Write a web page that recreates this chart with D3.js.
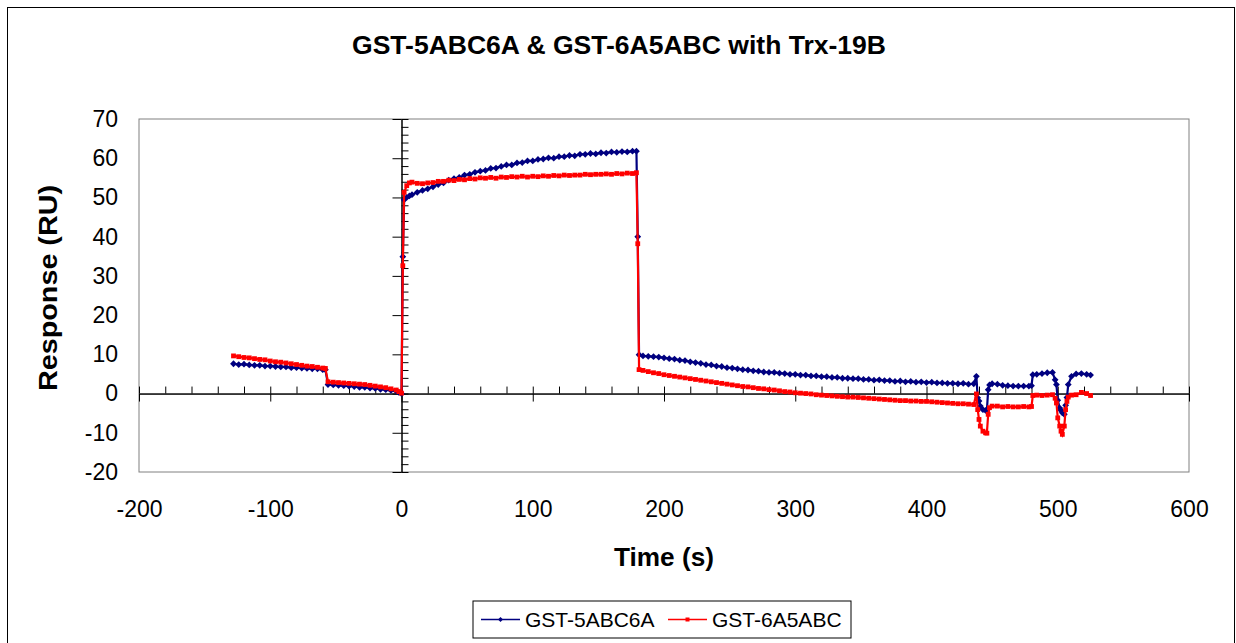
<!DOCTYPE html>
<html>
<head>
<meta charset="utf-8">
<script src="https://cdn.jsdelivr.net/npm/d3@7"></script>
<style>
  body { margin: 0; background: #fff; }
  text { font-family: Arial, "Liberation Sans", sans-serif; }
</style>
</head>
<body>
<svg id="drawing_region"></svg>
<script>
// time (s), one row per segment of the sensorgram
const times = [
    -128, -124, -120, -116, -112, -108, -104, -100, -96, -92, -88, -84, -80, -76, -72, -68, -64, -60, -58,
    -56, -52, -48, -44, -40, -36, -32, -28, -24, -20, -16, -12, -8, -4, -2, 0,
    1, 2, 4, 6, 8, 12, 16, 20,
    24, 28, 32, 36, 40, 44, 48, 52, 56, 60, 64, 68, 72, 76, 80, 84, 88, 92, 96, 100,
    104, 108, 112, 116, 120, 124, 128, 132, 136, 140, 144, 148, 152, 156, 160, 164, 168, 172, 176, 179,
    180, 181,
    184, 188, 192, 196, 200, 204, 208, 212, 216, 220, 224, 228, 232, 236, 240, 244, 248, 252, 256, 260,
    264, 268, 272, 276, 280, 284, 288, 292, 296, 300, 304, 308, 312, 316, 320, 324, 328, 332, 336, 340,
    344, 348, 352, 356, 360, 364, 368, 372, 376, 380, 384, 388, 392, 396, 400, 404, 408, 412, 416, 420,
    424, 428, 432, 436,
    438, 439, 440, 441, 443, 445, 446, 447, 448, 450, 454, 458, 462, 466, 470, 474, 478, 480,
    481, 484, 488, 492, 496, 498, 499, 500, 501.5, 502.5, 503.5, 505, 506, 507, 508, 510.5, 514, 518, 522, 525
];

// GST-5ABC6A (navy)
const values5ABC6A = [
    7.6, 7.4, 7.5, 7.3, 7.2, 7.2, 7.0, 7.0, 6.9, 6.8, 6.8, 6.6, 6.6, 6.5, 6.4, 6.3, 6.3, 6.1, 6.1,
    2.3, 2.2, 2.1, 2.0, 1.9, 1.8, 1.6, 1.6, 1.4, 1.3, 1.1, 1.0, 0.8, 0.6, 0.3, 0.0,
    34.9, 49.4, 50.0, 50.4, 50.7, 51.3, 51.8, 52.2,
    52.7, 53.3, 53.7, 54.4, 54.8, 55.1, 55.7, 55.9, 56.4, 56.7, 56.9, 57.4, 57.5, 57.9, 58.3, 58.3, 58.8, 58.9, 59.3, 59.3,
    59.7, 59.8, 60.1, 60.0, 60.4, 60.4, 60.7, 60.6, 61.0, 61.0, 61.2, 61.1, 61.4, 61.3, 61.6, 61.5, 61.7, 61.6, 61.8, 61.8,
    40.0, 9.9,
    9.6, 9.5, 9.4, 9.3, 9.1, 8.9, 8.8, 8.5, 8.4, 8.1, 7.9, 7.7, 7.4, 7.3, 7.0, 6.9, 6.6, 6.5, 6.3, 6.1,
    6.0, 5.8, 5.7, 5.5, 5.4, 5.4, 5.2, 5.1, 4.9, 4.9, 4.7, 4.7, 4.5, 4.5, 4.3, 4.3, 4.1, 4.1, 3.9, 3.9,
    3.8, 3.8, 3.6, 3.6, 3.4, 3.5, 3.3, 3.3, 3.1, 3.2, 3.0, 3.1, 2.9, 3.0, 2.8, 2.9, 2.7, 2.7, 2.6, 2.6,
    2.5, 2.6, 2.4, 2.5,
    4.4, -1.1, -1.9, -3.2, -4.1, -4.3, -4.4, 1.0, 2.2, 2.5, 2.4, 2.1, 2.0, 1.9, 1.9, 1.9, 1.9, 2.0,
    4.8, 4.9, 5.1, 5.3, 5.4, 3.5, 2.3, -1.7, -3.7, -4.3, -4.9, -5.3, -3.0, -1.0, 2.3, 4.4, 5.0, 5.1, 4.9, 4.7
];

// GST-6A5ABC (red)
const values6A5ABC = [
    9.6, 9.4, 9.2, 9.1, 8.9, 8.7, 8.6, 8.3, 8.1, 8.0, 7.8, 7.6, 7.4, 7.2, 7.0, 6.9, 6.7, 6.5, 6.4,
    3.0, 2.9, 2.8, 2.7, 2.6, 2.5, 2.4, 2.3, 2.1, 1.9, 1.7, 1.5, 1.2, 0.9, 0.5, 0.1,
    32.6, 51.3, 53.0, 53.7, 53.9, 53.6, 53.5, 53.7,
    53.8, 54.1, 54.1, 54.4, 54.3, 54.6, 54.5, 54.8, 54.7, 55.0, 54.9, 55.1, 54.9, 55.2, 55.1, 55.3, 55.2, 55.4, 55.2, 55.4,
    55.3, 55.5, 55.4, 55.6, 55.5, 55.7, 55.6, 55.7, 55.7, 55.9, 55.8, 55.9, 55.9, 56.0, 55.9, 56.1, 56.0, 56.2, 56.1, 56.3,
    38.2, 6.1,
    5.9, 5.6, 5.3, 5.1, 4.8, 4.6, 4.4, 4.2, 4.0, 3.8, 3.6, 3.4, 3.2, 3.0, 2.8, 2.6, 2.4, 2.2, 2.0, 1.8,
    1.7, 1.5, 1.3, 1.2, 1.0, 0.9, 0.7, 0.5, 0.4, 0.2, 0.1, 0.0, -0.1, -0.3, -0.4, -0.5, -0.6, -0.7, -0.8, -0.9,
    -0.9, -1.0, -1.1, -1.2, -1.3, -1.4, -1.5, -1.6, -1.7, -1.8, -1.8, -1.9, -1.9, -2.0, -2.0, -2.1, -2.2, -2.3, -2.4, -2.5,
    -2.6, -2.6, -2.7, -2.8,
    -0.1, -4.1, -6.6, -8.3, -9.6, -10.0, -10.1, -5.3, -3.6, -3.2, -3.2, -3.4, -3.3, -3.4, -3.4, -3.3, -3.4, -3.3,
    -0.5, -0.4, -0.5, -0.4, -0.3, -1.2, -2.4, -6.2, -8.3, -9.6, -10.4, -8.3, -4.1, -2.0, -0.9, -0.4, -0.3, 0.3, 0.0, -0.5
];

const seriesNames = ['GST-5ABC6A', 'GST-6A5ABC'];
const seriesColors = ['#000080', '#ff0000'];
const xTicks = [-200, -100, 0, 100, 200, 300, 400, 500, 600];
const yTicks = [-20, -10, 0, 10, 20, 30, 40, 50, 60, 70];

const data = seriesNames.map( (name, i) => ({
    name: name,
    color: seriesColors[i],
    marker: i == 0 ? 'diamond' : 'square',
    points: times.map( (t, j) => ({ t: t, v: (i == 0 ? values5ABC6A : values6A5ABC)[j] }) )
}));

var config = {
    parent: '#drawing_region',
    width: 1236,
    height: 643,
    margin: {top:119, right:47, bottom:171, left:139}
};

class SensorChart {

    constructor( config, data ) {
        this.config = config;
        this.data = data;
        this.init();
    }

    init() {
        let self = this;

        self.svg = d3.select( self.config.parent )
            .attr('width', self.config.width)
            .attr('height', self.config.height);

        self.inner_width = self.config.width - self.config.margin.left - self.config.margin.right;
        self.inner_height = self.config.height - self.config.margin.top - self.config.margin.bottom;

        // outer frame
        self.svg.append('rect')
            .attr('x', 7.5).attr('y', 7.5)
            .attr('width', self.config.width - 9).attr('height', 660)
            .attr('fill', 'none')
            .attr('stroke', '#000');

        self.chart = self.svg.append('g')
            .attr('transform', `translate(${self.config.margin.left}, ${self.config.margin.top})`);

        self.xscale = d3.scaleLinear()
            .domain([-200, 600])
            .range([0, self.inner_width]);

        self.yscale = d3.scaleLinear()
            .domain([-20, 70])
            .range([self.inner_height, 0]);

        self.svg.append('text')
            .attr('x', 619).attr('y', 54)
            .attr('text-anchor', 'middle')
            .attr('font-size', '26px')
            .attr('font-weight', 'bold')
            .attr('textLength', 534)
            .attr('lengthAdjust', 'spacingAndGlyphs')
            .text('GST-5ABC6A & GST-6A5ABC with Trx-19B');

        self.svg.append('text')
            .attr('x', 664).attr('y', 566)
            .attr('text-anchor', 'middle')
            .attr('font-size', '25px')
            .attr('font-weight', 'bold')
            .attr('textLength', 100)
            .attr('lengthAdjust', 'spacingAndGlyphs')
            .text('Time (s)');

        self.svg.append('text')
            .attr('transform', 'translate(57, 288) rotate(-90)')
            .attr('text-anchor', 'middle')
            .attr('font-size', '25px')
            .attr('font-weight', 'bold')
            .attr('textLength', 206)
            .attr('lengthAdjust', 'spacingAndGlyphs')
            .text('Response (RU)');
    }

    render() {
        let self = this;
        const x0 = self.xscale(0);
        const y0 = self.yscale(0);

        // plot box
        self.chart.append('rect')
            .attr('width', self.inner_width)
            .attr('height', self.inner_height)
            .attr('fill', 'none')
            .attr('stroke', '#808080');

        // tick labels along the bottom and the left of the box
        const xlabels = self.chart.append('g')
            .attr('transform', `translate(0, ${self.inner_height})`)
            .call( d3.axisBottom(self.xscale).tickValues(xTicks).tickSize(0).tickPadding(29).tickFormat(d => String(d)) );
        const ylabels = self.chart.append('g')
            .call( d3.axisLeft(self.yscale).tickValues(yTicks).tickSize(0).tickPadding(21).tickFormat(d => String(d)) );
        [xlabels, ylabels].forEach( g => {
            g.select('.domain').remove();
            g.selectAll('text')
                .attr('font-family', 'Arial, "Liberation Sans", sans-serif')
                .attr('font-size', '23px')
                .attr('fill', '#000');
        });

        // x axis through y = 0
        const xMinor = d3.range(-200, 601, 20);
        self.chart.append('g')
            .attr('transform', `translate(0, ${y0})`)
            .call( d3.axisTop(self.xscale).tickValues(xMinor).tickSize(7).tickFormat('').tickSizeOuter(0) );
        self.chart.append('g')
            .attr('transform', `translate(0, ${y0})`)
            .call( d3.axisBottom(self.xscale).tickValues(xTicks).tickSize(8).tickFormat('').tickSizeOuter(0) );

        // y axis through x = 0
        const yMinor = d3.range(-20, 71, 2);
        self.chart.append('g')
            .attr('transform', `translate(${x0}, 0)`)
            .call( d3.axisRight(self.yscale).tickValues(yMinor).tickSize(7).tickFormat('').tickSizeOuter(0) );
        self.chart.append('g')
            .attr('transform', `translate(${x0}, 0)`)
            .call( d3.axisLeft(self.yscale).tickValues(yTicks).tickSize(9).tickFormat('').tickSizeOuter(0) );

        self.chart.selectAll('.tick line, .domain')
            .attr('stroke', '#000');

        const line = d3.line()
            .x(d => self.xscale(d.t))
            .y(d => self.yscale(d.v));

        const markerPath = {
            diamond: 'M0,-3.4L3.4,0L0,3.4L-3.4,0Z',
            square: 'M-2.4,-2.4H2.4V2.4H-2.4Z'
        };

        self.data.forEach( s => {
            const g = self.chart.append('g');
            g.append('path')
                .attr('d', line(s.points))
                .attr('fill', 'none')
                .attr('stroke', s.color)
                .attr('stroke-width', 2.2);
            g.selectAll('path.marker').data(s.points).enter()
                .append('path')
                .attr('class', 'marker')
                .attr('transform', d => `translate(${self.xscale(d.t)}, ${self.yscale(d.v)})`)
                .attr('d', markerPath[s.marker])
                .attr('fill', s.color);
        });

        // legend
        const legend = self.svg.append('g')
            .attr('transform', 'translate(473, 601)');
        legend.append('rect')
            .attr('width', 378).attr('height', 37)
            .attr('fill', '#fff')
            .attr('stroke', '#000');
        const items = legend.selectAll('g.item').data(self.data).enter()
            .append('g')
            .attr('transform', (d, i) => `translate(${8 + i * 187}, 18.5)`);
        items.append('line')
            .attr('x1', 0).attr('x2', 39)
            .attr('stroke', d => d.color)
            .attr('stroke-width', 1.5);
        items.append('path')
            .attr('transform', 'translate(19.5, 0)')
            .attr('d', d => d.marker == 'diamond' ? 'M0,-2.5L2.5,0L0,2.5L-2.5,0Z' : 'M-2,-2H2V2H-2Z')
            .attr('fill', d => d.color);
        items.append('text')
            .attr('x', 44)
            .attr('dy', '0.36em')
            .attr('font-size', '21px')
            .text(d => d.name);
    }
}

const chart = new SensorChart( config, data );
chart.render();
</script>
</body>
</html>
